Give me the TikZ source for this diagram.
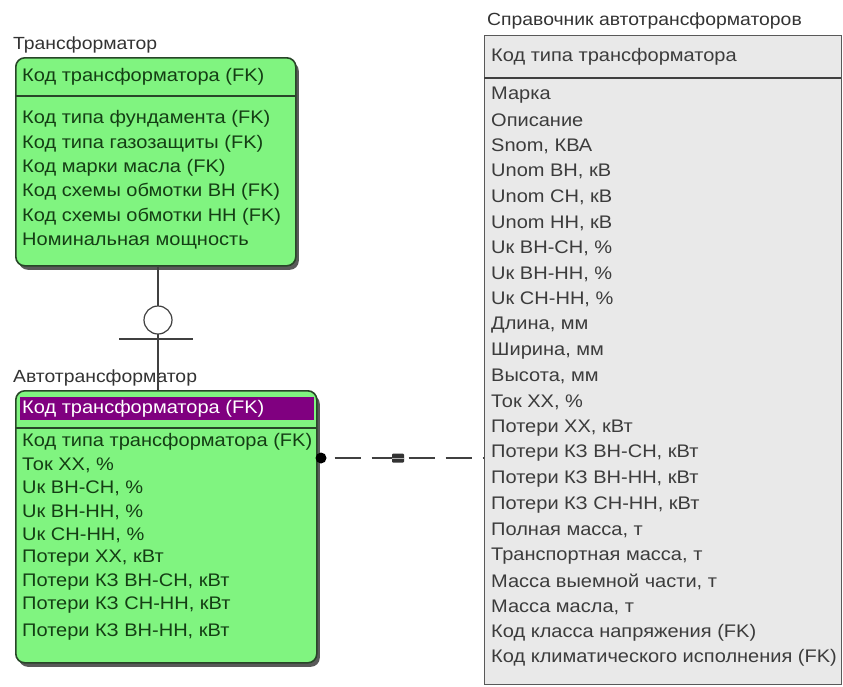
\documentclass[tikz,border=0pt]{standalone}
\usepackage{fontspec}
\setmainfont{Liberation Sans}[FakeStretch=1.1]
\usetikzlibrary{shadows}

\definecolor{entgreen}{RGB}{128,244,128}
\definecolor{entborder}{RGB}{40,70,40}
\definecolor{txtgreen}{RGB}{20,62,20}
\definecolor{keypurple}{RGB}{128,0,128}
\definecolor{refgray}{RGB}{233,233,233}
\definecolor{txtgray}{RGB}{60,60,60}

\tikzset{
  entity/.style={draw=entborder, fill=entgreen, line width=1.6pt, rounded corners=9pt,
    anchor=north west, inner sep=0pt,
    drop shadow={shadow xshift=3pt, shadow yshift=-4pt, fill=black!65, opacity=1}},
  refbox/.style={draw=black!65, fill=refgray, line width=1.2pt, anchor=north west, inner sep=0pt},
  title/.style={anchor=west, inner sep=0pt, text=black!80, font=\fontsize{17.6}{20}\selectfont},
  attr/.style={anchor=west, inner sep=0pt, text=txtgreen, font=\fontsize{18.2}{20}\selectfont},
  refattr/.style={attr, text=txtgray},
  sepline/.style={draw=entborder, line width=1.4pt},
  relline/.style={draw=black!75, line width=1.2pt},
}

\begin{document}
\begin{tikzpicture}[x=1pt, y=-1pt]
    \useasboundingbox (0,0) rectangle (843,686);

    % Трансформатор
    \node[title] (tr-title) at (13,45) {Трансформатор};
    \node[entity, minimum width=280pt, minimum height=208pt] (transf) at (15,57) {};
    \node[attr] (tr-key) at (22,77) {Код трансформатора (FK)};
    \draw[sepline] (15,96) -- (295,96);
    \foreach \txt [count=\i] in {Код типа фундамента (FK), Код типа газозащиты (FK),
        Код марки масла (FK), Код схемы обмотки ВН (FK), Код схемы обмотки НН (FK),
        Номинальная мощность}
        \node[attr] (tr-\i) at (22,{119+24.4*(\i-1)}) {\txt};

    % Автотрансформатор
    \node[title] (at-title) at (13,378) {Автотрансформатор};
    \node[entity, minimum width=301pt, minimum height=272pt] (auto) at (15,390) {};
    \fill[keypurple] (20,397) rectangle (314,420);
    \node[attr, text=white] (at-key) at (22,408.5) {Код трансформатора (FK)};
    \draw[sepline] (15,428) -- (316,428);
    \foreach \txt [count=\i] in {Код типа трансформатора (FK), {Ток ХХ, \%}, {Uк ВН-СН, \%},
        {Uк ВН-НН, \%}, {Uк СН-НН, \%}, {Потери ХХ, кВт}, {Потери КЗ ВН-СН, кВт},
        {Потери КЗ СН-НН, кВт}, {Потери КЗ ВН-НН, кВт}}
        \node[attr] (at-\i) at (22,{442+23.3*(\i-1)+(\i==9)*4}) {\txt};

    % Справочник автотрансформаторов
    \node[title] (sp-title) at (487,21) {Справочник автотрансформаторов};
    \node[refbox, minimum width=357pt, minimum height=649pt] (sprav) at (484,35) {};
    \node[refattr] (sp-key) at (491,57) {Код типа трансформатора};
    \draw[relline] (484,78) -- (841,78);
    \foreach \txt [count=\i] in {Марка, Описание, {Snom, КВА}, {Unom ВН, кВ}, {Unom СН, кВ},
        {Unom НН, кВ}, {Uк ВН-СН, \%}, {Uк ВН-НН, \%}, {Uк СН-НН, \%}, {Длина, мм},
        {Ширина, мм}, {Высота, мм}, {Ток ХХ, \%}, {Потери ХХ, кВт}, {Потери КЗ ВН-СН, кВт},
        {Потери КЗ ВН-НН, кВт}, {Потери КЗ СН-НН, кВт}, {Полная масса, т},
        {Транспортная масса, т}, {Масса выемной части, т}, {Масса масла, т},
        Код класса напряжения (FK), Код климатического исполнения (FK)}
        \node[refattr] (sp-\i) at (491,{95+25.6*(\i-1)}) {\txt};

    % Связь Трансформатор -- Автотрансформатор
    \draw[relline] (transf.south -| 158,0) -- (auto.north -| 158,0);
    \node[draw=black!75, fill=white, line width=1.2pt, circle, minimum size=28pt, inner sep=0pt]
        (zero) at (158,320) {};
    \draw[relline] (119,339) -- (193,339);

    % Связь Автотрансформатор -- Справочник
    \draw[relline, dash pattern=on 26pt off 11pt, dash phase=20pt]
        (auto.east |- 0,458) -- (sprav.west |- 0,458);
    \fill[black] (321,458) circle (5.5pt);
    \node[fill=black!80, minimum width=12pt, minimum height=9pt, inner sep=0pt, rounded corners=1pt]
        (nulls) at (398,458) {};
    \draw[white!70!black, line width=1pt] (nulls.west) -- (nulls.east);
\end{tikzpicture}
\end{document}
